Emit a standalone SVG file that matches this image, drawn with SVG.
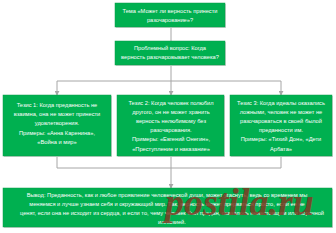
<svg xmlns="http://www.w3.org/2000/svg" width="336" height="233" viewBox="0 0 336 233">
<defs>
<style>
.box{fill:#00b050;stroke:#0b9a47;stroke-width:0.5}
.sh{fill:#d4d4d4}
.t{font-family:"Liberation Sans",Arial,sans-serif;font-size:5.7px;fill:#ffffff;text-anchor:middle}
.c{fill:none;stroke:#a6a6a6;stroke-width:1}
.wm{font-family:"Liberation Serif","Times New Roman",serif;font-weight:bold;font-style:italic;font-size:38px;fill:#7e3a24;fill-opacity:0.85}
</style>
<marker id="ah" viewBox="0 0 6 6" refX="5" refY="3" markerWidth="5" markerHeight="5" orient="auto" markerUnits="userSpaceOnUse">
<path d="M0,0 L6,3 L0,6 Z" fill="#a6a6a6"/>
</marker>
</defs>
<rect width="336" height="233" fill="#ffffff"/>
<g id="connectors">
<line class="c" x1="171" y1="27" x2="171" y2="41"/>
<path class="c" d="M171,65 V81 M57,81 H281"/>
<line class="c" x1="57" y1="81" x2="57" y2="95" marker-end="url(#ah)"/>
<line class="c" x1="171" y1="81" x2="171" y2="95" marker-end="url(#ah)"/>
<line class="c" x1="281" y1="81" x2="281" y2="95" marker-end="url(#ah)"/>
<path class="c" d="M57,156 V168 H281 V156 M171,156 V168"/>
<line class="c" x1="171" y1="168" x2="171" y2="188" marker-end="url(#ah)"/>
</g>
<g id="topic">
<rect class="sh" x="116" y="4" width="110" height="24"/>
<rect class="box" x="115" y="3" width="110" height="24"/>
<text class="t" x="170" y="12.5">Тема «Может ли верность принести</text>
<text class="t" x="170" y="21.5">разочарование»?</text>
</g>
<g id="question">
<rect class="sh" x="116" y="42" width="110" height="24"/>
<rect class="box" x="115" y="41" width="110" height="24"/>
<text class="t" x="170" y="50">Проблемный вопрос: Когда</text>
<text class="t" x="170" y="59">верность разочаровывает человека?</text>
</g>
<g id="thesis1">
<rect class="sh" x="4" y="96" width="108" height="61"/>
<rect class="box" x="3" y="95" width="108" height="61"/>
<text class="t" x="57" y="107">Тезис 1: Когда преданность не</text>
<text class="t" x="57" y="116.2">взаимна, она не может принести</text>
<text class="t" x="57" y="125.4">удовлетворения.</text>
<text class="t" x="57" y="134.6">Примеры: «Анна Каренина»,</text>
<text class="t" x="57" y="143.8">«Война и мир»</text>
</g>
<g id="thesis2">
<rect class="sh" x="118" y="96" width="107" height="61"/>
<rect class="box" x="117" y="95" width="107" height="61"/>
<text class="t" x="171" y="104.5">Тезис 2: Когда человек полюбил</text>
<text class="t" x="171" y="113.7">другого, он не может хранить</text>
<text class="t" x="171" y="122.9">верность нелюбимому без</text>
<text class="t" x="171" y="132.1">разочарования.</text>
<text class="t" x="171" y="141.3">Примеры: «Евгений Онегин»,</text>
<text class="t" x="171" y="150.5">«Преступление и наказание»</text>
</g>
<g id="thesis3">
<rect class="sh" x="231" y="96" width="102" height="61"/>
<rect class="box" x="230" y="95" width="102" height="61"/>
<text class="t" x="281" y="104.5">Тезис 3: Когда идеалы оказались</text>
<text class="t" x="281" y="113.7">ложными, человек не может не</text>
<text class="t" x="281" y="122.9">разочароваться в своей былой</text>
<text class="t" x="281" y="132.1">преданности им.</text>
<text class="t" x="281" y="141.3">Примеры: «Тихий Дон», «Дети</text>
<text class="t" x="281" y="150.5">Арбата»</text>
</g>
<g id="conclusion">
<rect class="sh" x="4" y="189" width="329" height="39"/>
<rect class="box" x="3" y="188" width="329" height="39"/>
<text class="t" x="167" y="197">Вывод: Преданность, как и любое проявление человеческой души, может угаснуть, ведь со временем мы</text>
<text class="t" x="167" y="206">меняемся и лучше узнаем себя и окружающий мир. Так, верность может прерваться просто, если ее не</text>
<text class="t" x="172" y="215.3">ценят, если она не исходит из сердца, и если то, чему человек был предан, оказалось ненастоящим или порочной</text>
<text class="t" x="172" y="224.3">иллюзией.</text>
</g>
<text class="wm" x="165" y="215">postila.ru</text>
</svg>
